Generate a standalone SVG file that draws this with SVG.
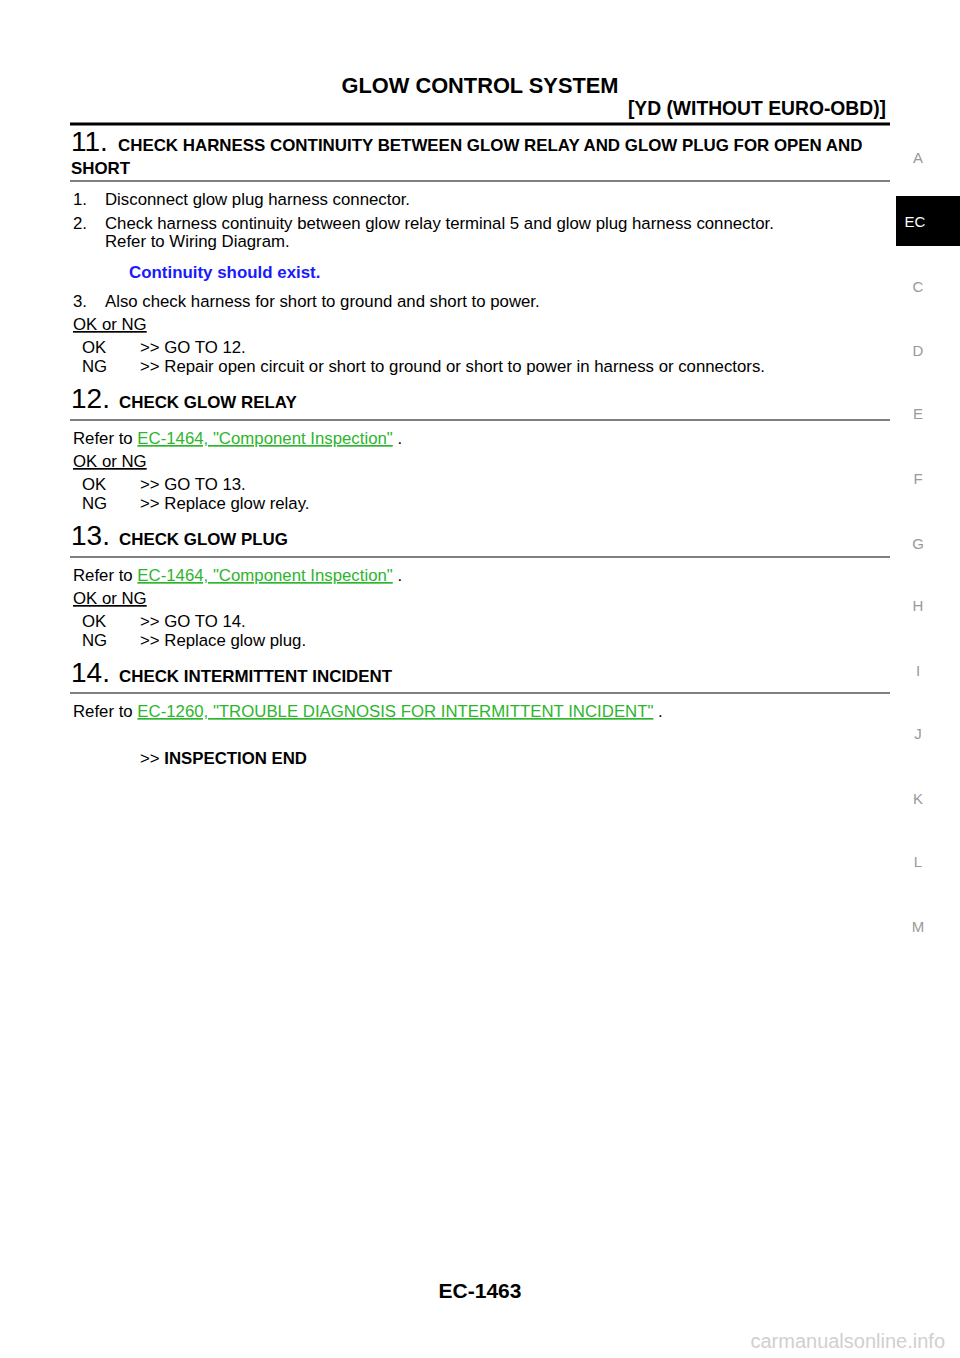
<svg xmlns="http://www.w3.org/2000/svg" width="960" height="1358" viewBox="0 0 960 1358">
<style>
text{font-family:"Liberation Sans",Arial,sans-serif;fill:#000}
.b{font-weight:bold}
.t{font-size:16.8px}
.h{font-size:16.9px;font-weight:bold}
.n{font-size:28px}
.l{fill:#2db52d;text-decoration:underline}
.s{font-size:15px;fill:#999;text-anchor:middle}
.u{text-decoration:underline}
</style>
<rect width="960" height="1358" fill="#fff"/>
<text x="480" y="93" class="b" font-size="21.8" text-anchor="middle">GLOW CONTROL SYSTEM</text>
<text x="886" y="115" class="b" font-size="19.3" text-anchor="end">[YD (WITHOUT EURO-OBD)]</text>
<line x1="70" y1="124" x2="890" y2="124" stroke="#000" stroke-width="3"/>
<rect x="896" y="196" width="64" height="50" fill="#000"/>
<text x="915" y="227" font-size="15" style="fill:#fff" text-anchor="middle">EC</text>
<text x="918" y="163" class="s">A</text><text x="918" y="292" class="s">C</text><text x="918" y="356" class="s">D</text><text x="918" y="419" class="s">E</text><text x="918" y="484" class="s">F</text><text x="918" y="549" class="s">G</text><text x="918" y="611" class="s">H</text><text x="918" y="676" class="s">I</text><text x="918" y="739" class="s">J</text><text x="918" y="804" class="s">K</text><text x="918" y="867" class="s">L</text><text x="918" y="932" class="s">M</text>

<text x="71" y="151" class="n">11.</text>
<text x="118" y="151" class="h">CHECK HARNESS CONTINUITY BETWEEN GLOW RELAY AND GLOW PLUG FOR OPEN AND</text>
<text x="71" y="174" class="h">SHORT</text>
<line x1="70" y1="181" x2="890" y2="181" stroke="#000"/>
<text x="73" y="205" class="t">1.</text><text x="105" y="205" class="t">Disconnect glow plug harness connector.</text>
<text x="73" y="229" class="t">2.</text><text x="105" y="229" class="t">Check harness continuity between glow relay terminal 5 and glow plug harness connector.</text>
<text x="105" y="247" class="t">Refer to Wiring Diagram.</text>
<text x="129" y="278" class="h" style="fill:#1a1aff">Continuity should exist.</text>
<text x="73" y="307" class="t">3.</text><text x="105" y="307" class="t">Also check harness for short to ground and short to power.</text>
<text x="73" y="330" class="t u">OK or NG</text>
<text x="82" y="353" class="t">OK</text><text x="140" y="353" class="t">&gt;&gt; GO TO 12.</text>
<text x="82" y="372" class="t">NG</text><text x="140" y="372" class="t">&gt;&gt; Repair open circuit or short to ground or short to power in harness or connectors.</text>

<text x="71" y="408" class="n">12.</text>
<text x="119" y="408" class="h">CHECK GLOW RELAY</text>
<line x1="70" y1="420" x2="890" y2="420" stroke="#000"/>
<text x="73" y="444" class="t">Refer to <tspan class="l">EC-1464, "Component Inspection"</tspan> .</text>
<text x="73" y="467" class="t u">OK or NG</text>
<text x="82" y="490" class="t">OK</text><text x="140" y="490" class="t">&gt;&gt; GO TO 13.</text>
<text x="82" y="509" class="t">NG</text><text x="140" y="509" class="t">&gt;&gt; Replace glow relay.</text>

<text x="71" y="545" class="n">13.</text>
<text x="119" y="545" class="h">CHECK GLOW PLUG</text>
<line x1="70" y1="557" x2="890" y2="557" stroke="#000"/>
<text x="73" y="581" class="t">Refer to <tspan class="l">EC-1464, "Component Inspection"</tspan> .</text>
<text x="73" y="604" class="t u">OK or NG</text>
<text x="82" y="627" class="t">OK</text><text x="140" y="627" class="t">&gt;&gt; GO TO 14.</text>
<text x="82" y="646" class="t">NG</text><text x="140" y="646" class="t">&gt;&gt; Replace glow plug.</text>

<text x="71" y="682" class="n">14.</text>
<text x="119" y="682" class="h">CHECK INTERMITTENT INCIDENT</text>
<line x1="70" y1="693" x2="890" y2="693" stroke="#000"/>
<text x="73" y="717" class="t">Refer to <tspan class="l">EC-1260, "TROUBLE DIAGNOSIS FOR INTERMITTENT INCIDENT"</tspan> .</text>
<text x="140" y="764" class="t">&gt;&gt; <tspan class="b">INSPECTION END</tspan></text>

<text x="480" y="1298" class="b" font-size="21" text-anchor="middle">EC-1463</text>
<text x="945" y="1348" font-size="20" text-anchor="end" style="fill:#d0d0d0">carmanualsonline.info</text>
</svg>
